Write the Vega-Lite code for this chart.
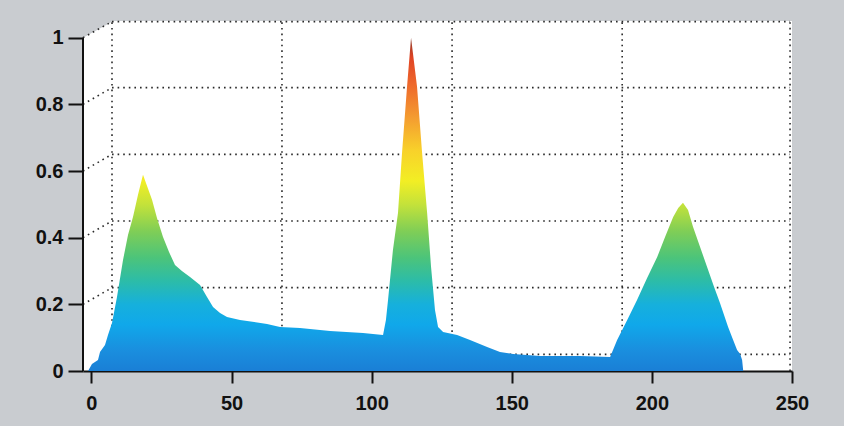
{
  "$schema": "https://vega.github.io/schema/vega-lite/v6.json",
  "width": 709,
  "height": 350,
  "autosize": {"type": "none"},
  "padding": {"left": 83, "top": 21, "right": 52, "bottom": 55},
  "background": "#c9ccd0",
  "config": {
    "view": {"fill": "white", "stroke": null},
    "axisX": {
      "grid": false,
      "domain": true,
      "domainColor": "#111111",
      "domainWidth": 2,
      "tickColor": "#111111",
      "tickWidth": 2,
      "tickSize": 12,
      "labelFont": "Liberation Sans",
      "labelFontWeight": "bold",
      "labelFontSize": 20,
      "labelColor": "#111111",
      "labelPadding": 10,
      "labelFlush": false,
      "labelOverlap": false
    },
    "axisY": {
      "grid": false,
      "domain": false,
      "tickColor": "#111111",
      "tickWidth": 2,
      "tickSize": 15,
      "labelFont": "Liberation Sans",
      "labelFontWeight": "bold",
      "labelFontSize": 20,
      "labelColor": "#111111",
      "labelPadding": 5,
      "labelFlush": false,
      "labelOverlap": false
    }
  },
  "datasets": {
    "curve": [
      {"x": -1.2, "y": 0}, {"x": 0.2, "y": 0.021}, {"x": 2.35, "y": 0.033}, {"x": 3.07, "y": 0.057},
      {"x": 4.85, "y": 0.078}, {"x": 5.92, "y": 0.108}, {"x": 7.35, "y": 0.144}, {"x": 9.13, "y": 0.222},
      {"x": 11.28, "y": 0.333}, {"x": 13.06, "y": 0.408}, {"x": 14.84, "y": 0.462}, {"x": 16.63, "y": 0.529},
      {"x": 18.41, "y": 0.589}, {"x": 21.63, "y": 0.514}, {"x": 23.4, "y": 0.459}, {"x": 25.55, "y": 0.402},
      {"x": 27.7, "y": 0.357}, {"x": 29.83, "y": 0.318}, {"x": 32.3, "y": 0.3}, {"x": 35.19, "y": 0.282},
      {"x": 38.76, "y": 0.258}, {"x": 41.25, "y": 0.222}, {"x": 43.4, "y": 0.192}, {"x": 45.9, "y": 0.174},
      {"x": 48.39, "y": 0.162}, {"x": 53.03, "y": 0.153}, {"x": 62.67, "y": 0.141}, {"x": 67.31, "y": 0.132},
      {"x": 74.44, "y": 0.129}, {"x": 85.15, "y": 0.12}, {"x": 96.93, "y": 0.114}, {"x": 104.07, "y": 0.108},
      {"x": 105.1, "y": 0.153}, {"x": 105.85, "y": 0.213}, {"x": 107.6, "y": 0.363}, {"x": 109.4, "y": 0.474},
      {"x": 110.85, "y": 0.655}, {"x": 112.63, "y": 0.853}, {"x": 114.06, "y": 1.0}, {"x": 116.2, "y": 0.853},
      {"x": 118.0, "y": 0.655}, {"x": 119.8, "y": 0.474}, {"x": 121.2, "y": 0.312}, {"x": 122.6, "y": 0.183},
      {"x": 123.7, "y": 0.132}, {"x": 125.5, "y": 0.117}, {"x": 130.5, "y": 0.108}, {"x": 135.1, "y": 0.093},
      {"x": 141.2, "y": 0.072}, {"x": 145.8, "y": 0.057}, {"x": 150.5, "y": 0.051}, {"x": 160.1, "y": 0.045},
      {"x": 174.4, "y": 0.045}, {"x": 185.1, "y": 0.042}, {"x": 187.6, "y": 0.093}, {"x": 191.2, "y": 0.153},
      {"x": 194.7, "y": 0.213}, {"x": 198.3, "y": 0.279}, {"x": 201.9, "y": 0.342}, {"x": 204.7, "y": 0.402},
      {"x": 207.6, "y": 0.462}, {"x": 209.4, "y": 0.489}, {"x": 211.1, "y": 0.505}, {"x": 212.9, "y": 0.483},
      {"x": 214.7, "y": 0.432}, {"x": 217.2, "y": 0.372}, {"x": 219.7, "y": 0.312}, {"x": 222.2, "y": 0.252},
      {"x": 224.3, "y": 0.204}, {"x": 227.2, "y": 0.132}, {"x": 229.0, "y": 0.093}, {"x": 230.4, "y": 0.063},
      {"x": 231.5, "y": 0.051}, {"x": 232.2, "y": 0.033}, {"x": 232.6, "y": 0}
    ],
    "backwall": [
      {"x": 7.35, "x2": 249.3, "y": 0.05, "y2": 0.05},
      {"x": 7.35, "x2": 249.3, "y": 0.25, "y2": 0.25},
      {"x": 7.35, "x2": 249.3, "y": 0.45, "y2": 0.45},
      {"x": 7.35, "x2": 249.3, "y": 0.65, "y2": 0.65},
      {"x": 7.35, "x2": 249.3, "y": 0.85, "y2": 0.85},
      {"x": 7.35, "x2": 249.3, "y": 1.048, "y2": 1.048},
      {"x": 7.35, "x2": 7.35, "y": 0.05, "y2": 1.048},
      {"x": 68.0, "x2": 68.0, "y": 0.05, "y2": 1.048},
      {"x": 128.7, "x2": 128.7, "y": 0.05, "y2": 1.048},
      {"x": 189.4, "x2": 189.4, "y": 0.05, "y2": 1.048},
      {"x": 249.3, "x2": 249.3, "y": 0.0, "y2": 1.048},
      {"x": -3, "x2": 7.35, "y": 0.2, "y2": 0.25},
      {"x": -3, "x2": 7.35, "y": 0.4, "y2": 0.45},
      {"x": -3, "x2": 7.35, "y": 0.6, "y2": 0.65},
      {"x": -3, "x2": 7.35, "y": 0.8, "y2": 0.85},
      {"x": -3, "x2": 7.35, "y": 1.0, "y2": 1.048}
    ],
    "corner": [
      {"x": -3, "y": 1.0, "y2": 1.05},
      {"x": 7.35, "y": 1.048, "y2": 1.05}
    ],
    "frontaxis": [
      {"x": -3, "x2": -3, "y": 0, "y2": 1.0}
    ]
  },
  "encoding": {
    "x": {
      "field": "x", "type": "quantitative", "title": null,
      "scale": {"domain": [-3, 250], "nice": false, "zero": false},
      "axis": {"values": [0, 50, 100, 150, 200, 250]}
    },
    "y": {
      "field": "y", "type": "quantitative", "title": null,
      "scale": {"domain": [0, 1.05], "nice": false, "zero": false},
      "axis": {"values": [0, 0.2, 0.4, 0.6, 0.8, 1], "format": "~g"}
    }
  },
  "layer": [
    {
      "data": {"name": "corner"},
      "mark": {"type": "area", "color": "#c9ccd0", "interpolate": "linear"},
      "encoding": {"y2": {"field": "y2"}}
    },
    {
      "data": {"name": "backwall"},
      "mark": {"type": "rule", "color": "#2a2a2a", "strokeWidth": 1.6, "strokeDash": [1.6, 4]},
      "encoding": {"x2": {"field": "x2"}, "y2": {"field": "y2"}}
    },
    {
      "data": {"name": "curve"},
      "mark": {
        "type": "area",
        "interpolate": "linear",
        "color": {
          "gradient": "linear",
          "x1": 0, "y1": 1, "x2": 0, "y2": 0,
          "stops": [
            {"offset": 0, "color": "#1a7fd6"},
            {"offset": 0.06, "color": "#1a8ede"},
            {"offset": 0.14, "color": "#10a8ea"},
            {"offset": 0.2, "color": "#16b0dc"},
            {"offset": 0.27, "color": "#2cbca8"},
            {"offset": 0.34, "color": "#4cc47a"},
            {"offset": 0.42, "color": "#80ce56"},
            {"offset": 0.5, "color": "#c4e23a"},
            {"offset": 0.57, "color": "#f2ee24"},
            {"offset": 0.66, "color": "#f8d22a"},
            {"offset": 0.76, "color": "#f49c30"},
            {"offset": 0.86, "color": "#ee682c"},
            {"offset": 0.94, "color": "#e04424"},
            {"offset": 1, "color": "#8a3a2a"}
          ]
        }
      }
    },
    {
      "data": {"name": "frontaxis"},
      "mark": {"type": "rule", "color": "#111111", "strokeWidth": 2},
      "encoding": {"x2": {"field": "x2"}, "y2": {"field": "y2"}}
    }
  ]
}
